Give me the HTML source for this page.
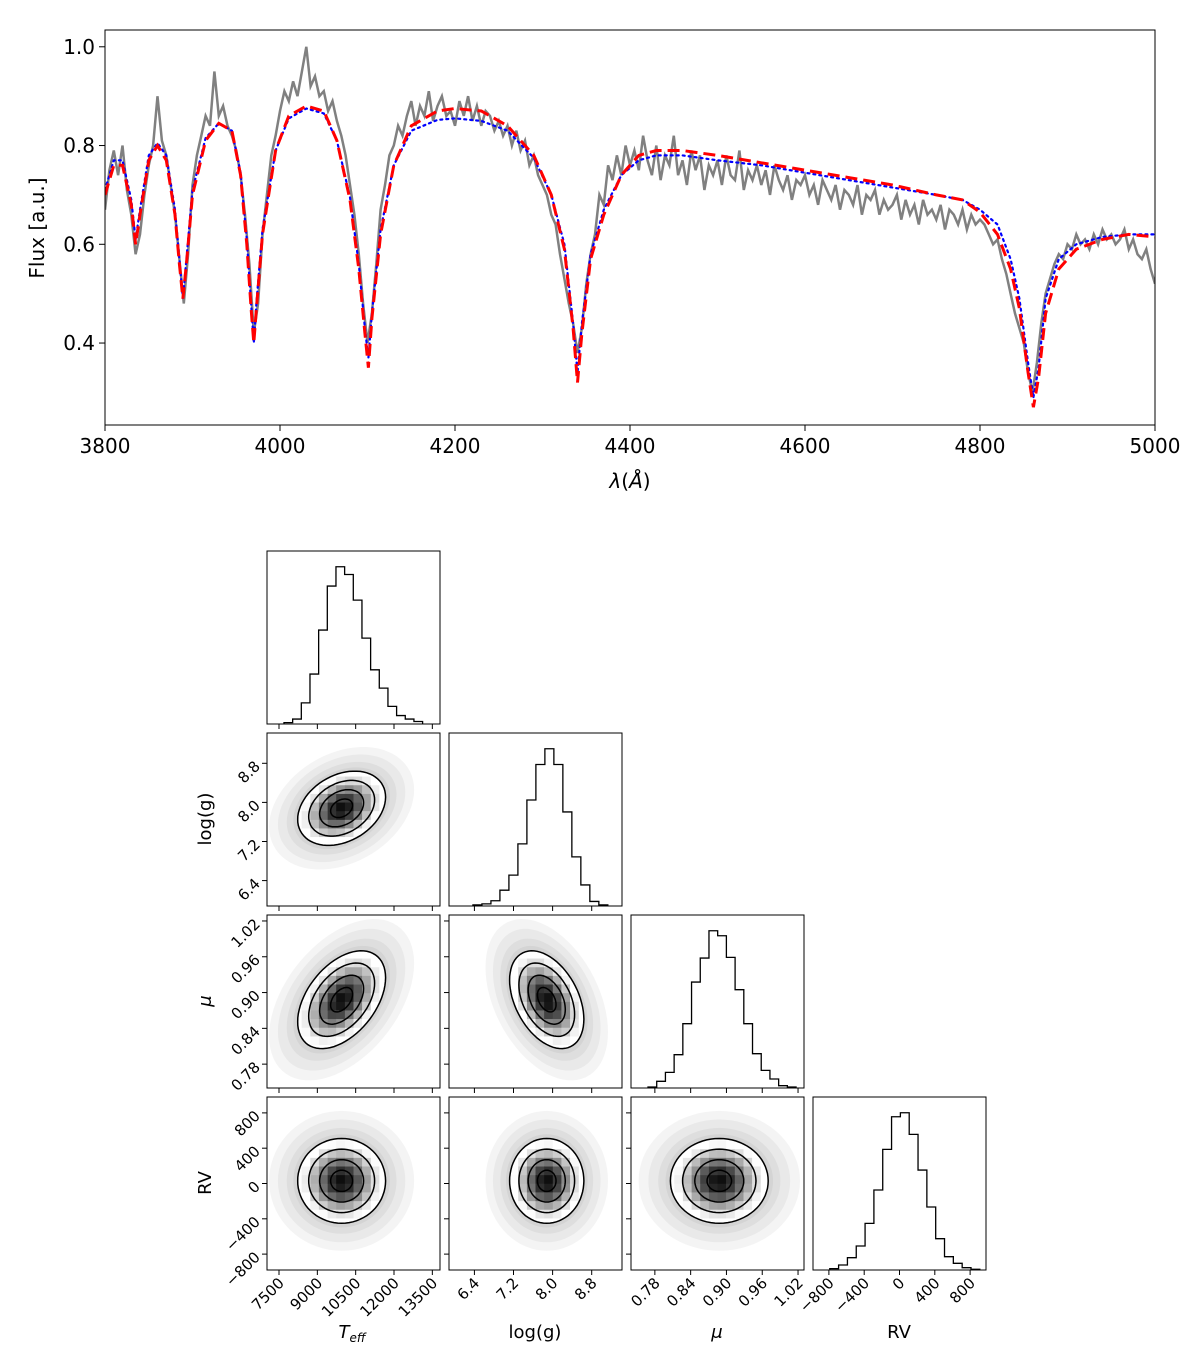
<!DOCTYPE html>
<html><head><meta charset="utf-8"><style>
body{margin:0;background:#fff;}
svg{display:block;font-family:"DejaVu Sans","Liberation Sans",sans-serif;}
</style></head><body>
<svg id="fig" width="1200" height="1357" viewBox="0 0 1200 1357" xmlns="http://www.w3.org/2000/svg"></svg>
<script>
// ---------- spectrum data ----------
const specTicksX=[3800,4000,4200,4400,4600,4800,5000];
const specTicksY=[0.4,0.6,0.8,1.0];
const obsStart=3800, obsStep=5;
const obsFlux=[
.67,.75,.79,.74,.80,.71,.66,.58,.62,.70,
.76,.80,.90,.81,.78,.72,.66,.57,.48,.58,
.72,.78,.82,.86,.84,.95,.86,.88,.84,.82,
.79,.74,.66,.56,.42,.48,.62,.70,.78,.82,
.87,.91,.89,.93,.90,.95,1.00,.92,.94,.90,
.91,.87,.89,.85,.82,.78,.72,.66,.58,.48,
.40,.46,.56,.67,.72,.78,.80,.84,.82,.86,
.89,.84,.88,.86,.91,.85,.88,.90,.86,.87,
.84,.89,.86,.90,.85,.88,.84,.87,.86,.83,
.85,.82,.84,.80,.83,.79,.81,.76,.78,.74,
.72,.70,.66,.64,.58,.53,.48,.44,.38,.43,
.52,.58,.62,.70,.68,.76,.73,.78,.74,.80,
.76,.79,.75,.82,.77,.74,.80,.73,.78,.76,
.82,.74,.77,.72,.79,.75,.78,.71,.76,.74,
.77,.72,.78,.74,.73,.79,.71,.75,.73,.76,
.72,.75,.70,.76,.73,.71,.74,.69,.73,.72,
.74,.70,.72,.68,.73,.71,.69,.72,.67,.71,
.70,.68,.72,.66,.70,.69,.71,.66,.69,.67,
.68,.70,.65,.69,.66,.68,.64,.69,.66,.67,
.65,.68,.63,.67,.66,.64,.67,.63,.66,.64,
.65,.64,.62,.60,.61,.57,.54,.50,.46,.43,
.40,.34,.30,.36,.44,.50,.53,.56,.58,.57,
.60,.59,.62,.60,.61,.59,.62,.60,.63,.61,
.62,.60,.61,.63,.59,.61,.58,.57,.59,.55,
.52];
const modelWave=[3800,3810,3820,3830,3835,3840,3850,3860,3870,3880,3885,3889,3893,3900,3915,3930,3945,3955,3962,3967,3970,3973,3980,3995,4010,4030,4050,4065,4080,4090,4097,4101,4105,4115,4130,4150,4180,4200,4230,4260,4290,4310,4325,4335,4340,4345,4355,4370,4390,4410,4430,4460,4500,4550,4600,4650,4700,4750,4780,4800,4820,4835,4845,4855,4861,4867,4875,4890,4910,4940,4970,5000];
const redFlux=[0.70,0.76,0.76,0.68,0.60,0.66,0.77,0.80,0.77,0.66,0.56,0.49,0.56,0.70,0.81,0.845,0.83,0.74,0.60,0.47,0.40,0.47,0.62,0.79,0.86,0.88,0.87,0.81,0.69,0.55,0.42,0.35,0.45,0.62,0.76,0.84,0.87,0.875,0.87,0.84,0.78,0.70,0.59,0.43,0.32,0.42,0.57,0.66,0.74,0.78,0.79,0.79,0.78,0.765,0.75,0.735,0.72,0.70,0.69,0.665,0.62,0.55,0.47,0.34,0.27,0.33,0.46,0.55,0.59,0.61,0.62,0.615];
const blueFlux=[0.71,0.77,0.77,0.69,0.61,0.67,0.78,0.805,0.78,0.67,0.57,0.49,0.57,0.71,0.815,0.845,0.83,0.745,0.61,0.48,0.40,0.48,0.63,0.79,0.855,0.875,0.865,0.81,0.695,0.56,0.43,0.37,0.46,0.63,0.76,0.83,0.852,0.855,0.85,0.83,0.775,0.70,0.60,0.44,0.34,0.44,0.58,0.67,0.74,0.77,0.78,0.78,0.77,0.76,0.745,0.73,0.715,0.70,0.69,0.67,0.64,0.57,0.49,0.36,0.29,0.35,0.49,0.57,0.60,0.615,0.62,0.62];

// ---------- corner data ----------
const paramNames=["Teff","logg","mu","RV"];
const paramMeans=[9950,7.88,0.888,30];
const paramSDs=[860,0.38,0.041,240];
const corrTeffLogg=0.3, corrTeffMu=0.45, corrLoggMu=-0.4, corrTeffRV=0.0, corrLoggRV=0.0, corrMuRV=0.0;
const teffTicks=[7500,9000,10500,12000,13500];
const loggTicks=[6.4,7.2,8.0,8.8];
const muTicks=[0.78,0.84,0.90,0.96,1.02];
const rvTicks=[-800,-400,0,400,800];
const teffTickLabels=["7500","9000","10500","12000","13500"];
const loggTickLabels=["6.4","7.2","8.0","8.8"];
const muTickLabels=["0.78","0.84","0.90","0.96","1.02"];
const rvTickLabels=["\u2212800","\u2212400","0","400","800"];
const teffHistStart=7695, teffHistWidth=339;
const teffHistCounts=[4,14,60,142,267,392,447,425,352,244,154,102,50,24,14,7];
const loggHistStart=6.37, loggHistWidth=0.184;
const loggHistCounts=[3,6,15,45,88,177,302,403,448,403,268,140,60,13,3];
const muHistStart=0.7685, muHistWidth=0.0146;
const muHistCounts=[3,20,47,100,193,318,390,472,457,392,295,193,103,53,27,7,3];
const rvHistStart=-790, rvHistWidth=100;
const rvHistCounts=[4,15,37,72,140,240,362,460,472,407,300,189,94,40,20,7,2];

const NS="http://www.w3.org/2000/svg";
const svg=document.getElementById('fig');
function mk(tag,attrs,parent){const e=document.createElementNS(NS,tag);for(const k in attrs)e.setAttribute(k,attrs[k]);(parent||svg).appendChild(e);return e;}

// ================= spectrum =================
const SP={x0:105,x1:1155,y0:30,y1:425,xmin:3800,xmax:5000,ymin:0.234,ymax:1.034};
const sx=w=>SP.x0+(w-SP.xmin)/(SP.xmax-SP.xmin)*(SP.x1-SP.x0);
const sy=f=>SP.y1-(f-SP.ymin)/(SP.ymax-SP.ymin)*(SP.y1-SP.y0);
const specG=mk('g',{});


const clip=mk('clipPath',{id:'spclip'},mk('defs',{}));
mk('rect',{x:SP.x0,y:SP.y0,width:SP.x1-SP.x0,height:SP.y1-SP.y0},clip);
let d='';obsFlux.forEach((f,i)=>{d+=(i?'L':'M')+sx(obsStart+i*obsStep).toFixed(1)+','+sy(f).toFixed(1);});
const obs=mk('path',{d:d,fill:'none',stroke:'#808080','stroke-width':2.5,'clip-path':'url(#spclip)'},specG);


d='';blueFlux.forEach((f,i)=>{d+=(i?'L':'M')+sx(modelWave[i]).toFixed(1)+','+sy(f).toFixed(1);});
const bl=mk('path',{d:d,fill:'none',stroke:'#0000ff','stroke-width':2.2,'stroke-dasharray':'2,4','stroke-linecap':'round','clip-path':'url(#spclip)'},specG);


d='';redFlux.forEach((f,i)=>{d+=(i?'L':'M')+sx(modelWave[i]).toFixed(1)+','+sy(f).toFixed(1);});
const rd=mk('path',{d:d,fill:'none',stroke:'#ff0000','stroke-width':3,'stroke-dasharray':'12,6','clip-path':'url(#spclip)'},specG);


mk('rect',{x:SP.x0,y:SP.y0,width:SP.x1-SP.x0,height:SP.y1-SP.y0,fill:'none',stroke:'#000','stroke-width':1},specG);
specTicksX.forEach(t=>{const x=sx(t);mk('line',{x1:x,x2:x,y1:SP.y1,y2:SP.y1+6,stroke:'#000'},specG);
 const tx=mk('text',{x:x,y:SP.y1+28,'text-anchor':'middle','font-size':20},specG);tx.textContent=t;
 
 });
specTicksY.forEach(t=>{const y=sy(t);mk('line',{x1:SP.x0-6,x2:SP.x0,y1:y,y2:y,stroke:'#000'},specG);
 const tx=mk('text',{x:SP.x0-10,y:y+7,'text-anchor':'end','font-size':20},specG);tx.textContent=t.toFixed(1);
 
 });
</script>
<script>
// ================= corner =================
const cols=[267,449,631,813], rows=[551,733,915,1097], PS=173;
const doms=[[7030,13800],[5.88,9.42],[0.74,1.03],[-980,980]];
const ticks=[teffTicks,loggTicks,muTicks,rvTicks];
const tickLabels=[teffTickLabels,loggTickLabels,muTickLabels,rvTickLabels];
const hists=[[teffHistStart,teffHistWidth,teffHistCounts],[loggHistStart,loggHistWidth,loggHistCounts],[muHistStart,muHistWidth,muHistCounts],[rvHistStart,rvHistWidth,rvHistCounts]];
const corr=[[1,corrTeffLogg,corrTeffMu,corrTeffRV],[corrTeffLogg,1,corrLoggMu,corrLoggRV],[corrTeffMu,corrLoggMu,1,corrMuRV],[corrTeffRV,corrLoggRV,corrMuRV,1]];
function ax(i,left){const[a,b]=doms[i];return v=>left+(v-a)/(b-a)*PS;}
function ay(i,top){const[a,b]=doms[i];return v=>top+PS-(v-a)/(b-a)*PS;}
const cg=mk('g',{});


let cid=0;
for(let r=0;r<4;r++){for(let c=0;c<=r;c++){
 const L=cols[c],T=rows[r];
 const g=mk('g',{},cg);
 
 
 const X=ax(c,L);
 cid++;const defs=mk('defs',{},g);const cp=mk('clipPath',{id:'cp'+cid},defs);mk('rect',{x:L,y:T,width:PS,height:PS},cp);
 if(r==c){
  const[st,w,cn]=hists[c];const mx=Math.max(...cn)*1.1;
  const Y=v=>T+PS-v/mx*PS;
  let p='M'+X(st)+','+(T+PS);
  cn.forEach((v,k)=>{p+='L'+X(st+k*w)+','+Y(v)+'L'+X(st+(k+1)*w)+','+Y(v);});
  p+='L'+X(st+cn.length*w)+','+(T+PS);
  const h=mk('path',{d:p,fill:'none',stroke:'#000','stroke-width':1.3,'clip-path':'url(#cp'+cid+')'},g);
  
  
 } else {
  const Y=ay(r,T);
  const mxv=paramMeans[c],myv=paramMeans[r],sxv=paramSDs[c],syv=paramSDs[r],rho=corr[c][r];
  const gg=mk('g',{'clip-path':'url(#cp'+cid+')'},g);
  const ell=s=>{let p='';for(let k=0;k<=72;k++){const t=k/72*2*Math.PI,u=Math.cos(t),v=Math.sin(t);
   const dx=s*sxv*u,dy=s*syv*(rho*u+Math.sqrt(1-rho*rho)*v);
   p+=(k?'L':'M')+X(mxv+dx).toFixed(1)+','+Y(myv+dy).toFixed(1);}return p+'Z';};
  [3.3,2.9,2.5,2.2].forEach(s=>{const e=mk('path',{d:ell(s),fill:'#000','fill-opacity':0.045},gg);
   
   });
  mk('path',{d:ell(2),fill:'#fff'},gg);
  const ec=mk('clipPath',{id:'ec'+cid},defs);mk('path',{d:ell(2)},ec);
  const cells=mk('g',{'clip-path':'url(#ec'+cid+')'},gg);
  // density cells
  const nb=20,[xa,xb]=doms[c],[ya,yb]=doms[r],cw=(xb-xa)/nb,ch=(yb-ya)/nb;
  for(let i=0;i<nb;i++)for(let j=0;j<nb;j++){
   const xv=xa+(i+.5)*cw,yv=ya+(j+.5)*ch;
   const zx=(xv-mxv)/sxv,zy=(yv-myv)/syv;
   const m2=(zx*zx-2*rho*zx*zy+zy*zy)/(1-rho*rho);
   if(m2>5)continue;
   const t=Math.max(0,(Math.exp(-m2/2)-0.2)/(1-0.2));
   const gv=Math.round(255*(1-0.95*t));
   const cell=mk('rect',{x:X(xa+i*cw).toFixed(1),y:Y(ya+(j+1)*ch).toFixed(1),width:(PS/nb+0.3).toFixed(2),height:(PS/nb+0.3).toFixed(2),fill:`rgb(${gv},${gv},${gv})`},cells);
   
   
  }
  [0.5,1,1.5,2].forEach(s=>{const e=mk('path',{d:ell(s),fill:'none',stroke:'#000','stroke-width':1.5},gg);
   
   });
  // y ticks
  if(c==0){ticks[r].forEach((t,k)=>{const y=Y(t);mk('line',{x1:L-5,x2:L,y1:y,y2:y,stroke:'#000'},g);
   const tx=mk('text',{x:0,y:0,'text-anchor':'end','font-size':15,transform:`translate(${L-6},${y+4}) rotate(-45)`},g);tx.textContent=tickLabels[r][k];
   
   });}
  else {ticks[r].forEach(t=>{const y=Y(t);mk('line',{x1:L-5,x2:L,y1:y,y2:y,stroke:'#000'},g);});}
 }
 mk('rect',{x:L,y:T,width:PS,height:PS,fill:'none',stroke:'#000','stroke-width':1},g);
 // x ticks
 ticks[c].forEach((t,k)=>{const x=X(t);mk('line',{x1:x,x2:x,y1:T+PS,y2:T+PS+5,stroke:'#000'},g);
  if(r==3){const tx=mk('text',{x:0,y:0,'text-anchor':'end','font-size':15,transform:`translate(${x+6},${T+PS+14}) rotate(-45)`},g);tx.textContent=tickLabels[c][k];
   
   }});
}}
</script>
<script>
// static labels
(function(){
 const lab=(x,y,txt,size,name,extra)=>{const t=mk('text',Object.assign({x:x,y:y,'text-anchor':'middle','font-size':size},extra||{}));t.innerHTML=txt;
  
  return t;};
 lab(0,0,'Flux [a.u.]',20,'y-axis-title',{transform:'translate(44,228) rotate(-90)'});
 lab(630,488,'<tspan font-style="italic">λ</tspan>(<tspan font-style="italic">Å</tspan>)',20,'x-axis-title');
 lab(352,1338,'<tspan font-style="italic">T</tspan><tspan font-style="italic" font-size="12" dy="4">eff</tspan>',18,'teff-axis-title');
 lab(535,1338,'log(g)',18,'logg-axis-title');
 lab(717,1338,'<tspan font-style="italic">μ</tspan>',18,'mu-axis-title');
 lab(899,1338,'RV',18,'rv-axis-title');
 lab(0,0,'log(g)',18,'logg-y-axis-title',{transform:'translate(211,819) rotate(-90)'});
 lab(0,0,'<tspan font-style="italic">μ</tspan>',18,'mu-y-axis-title',{transform:'translate(211,1001) rotate(-90)'});
 lab(0,0,'RV',18,'rv-y-axis-title',{transform:'translate(211,1183) rotate(-90)'});
})();
</script>
</body></html>
